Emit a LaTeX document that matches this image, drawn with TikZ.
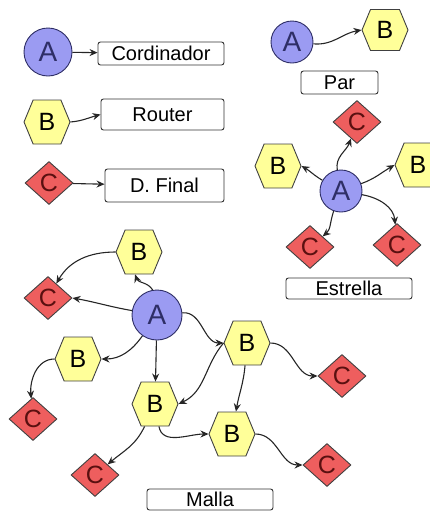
\documentclass[tikz,border=0pt]{standalone}
\usepackage{fontspec}
\setmainfont{Liberation Sans}
\usetikzlibrary{shapes.geometric,shapes.symbols,arrows.meta}
\definecolor{afill}{HTML}{9B9BF2}
\definecolor{aline}{HTML}{2E2E66}
\definecolor{bfill}{HTML}{FFFF99}
\definecolor{cfill}{HTML}{EE5E5E}
\definecolor{ctext}{HTML}{5A1010}

\begin{document}
\begin{tikzpicture}[x=1pt,y=1pt,
  acirc/.style={circle,draw=aline,line width=0.9pt,fill=afill,text=aline,minimum size=44pt,inner sep=0pt,font=\fontsize{28}{28}\selectfont},
  bhex/.style={signal,signal to=west and east,signal pointer angle=135,draw=black!75,line width=0.9pt,fill=bfill,minimum width=46pt,minimum height=44pt,inner sep=0pt,font=\fontsize{25}{25}\selectfont},
  cdia/.style={diamond,draw=black!75,line width=0.9pt,fill=cfill,text=ctext,minimum width=48pt,minimum height=43pt,inner sep=0pt,font=\fontsize{25}{25}\selectfont},
  lbox/.style={rectangle,rounded corners=2.5pt,draw=black!80,line width=0.9pt,fill=white,inner sep=0pt,font=\fontsize{20}{20}\selectfont},
  arr/.style={line width=1.1pt,-{Stealth[length=8pt,width=7pt]},black!85}]
\useasboundingbox (0,0) rectangle (429,-512);

% leyenda
\node[acirc,minimum size=48pt] (la) at (48,-52) {A};
\node[lbox,minimum width=126pt,minimum height=23pt] (tcor) at (161,-53.5) {Cordinador};
\node[bhex] (lb) at (47,-122) {B};
\node[lbox,minimum width=123pt,minimum height=31pt] (trou) at (162.5,-114.5) {Router};
\node[cdia] (lc) at (49,-183) {C};
\node[lbox,minimum width=119pt,minimum height=33pt] (tfin) at (164.5,-185.5) {D. Final};
\draw[arr] (la) -- (tcor);
\draw[arr] (lb.east) to[out=5,in=195] (trou.west);
\draw[arr] (lc) -- (tfin);

% par
\node[acirc,minimum size=42pt] (pa) at (292,-42) {A};
\node[bhex,minimum height=41pt] (pb) at (385,-30) {B};
\node[lbox,minimum width=77pt,minimum height=23pt] (tpar) at (339.5,-82.5) {Par};
\draw[arr] (pa) to[out=-5,in=190] (pb.west);

% estrella
\node[acirc,minimum size=42pt] (ea) at (341,-191) {A};
\node[cdia] (ec1) at (357,-122) {C};
\node[bhex] (eb1) at (278,-166) {B};
\node[bhex] (eb2) at (418,-165) {B};
\node[cdia] (ec2) at (310,-247) {C};
\node[cdia] (ec3) at (397,-245) {C};
\node[lbox,minimum width=126pt,minimum height=21pt] (test) at (349,-288.5) {Estrella};
\draw[arr] (ea) to[out=100,in=250] (ec1);
\draw[arr] (ea) to[out=150,in=-30] (eb1.east);
\draw[arr] (ea) to[out=20,in=210] (eb2.west);
\draw[arr] (ea) to[out=250,in=40] (ec2);
\draw[arr] (ea) to[out=-10,in=95] (ec3);

% malla
\node[acirc,minimum size=50pt] (ma) at (157,-315) {A};
\node[bhex] (mb1) at (139,-252) {B};
\node[bhex] (mb2) at (78,-359) {B};
\node[bhex] (mb3) at (155,-404) {B};
\node[bhex] (mb4) at (247,-343) {B};
\node[bhex] (mb5) at (232,-434) {B};
\node[cdia] (mc1) at (48,-298) {C};
\node[cdia] (mc2) at (33,-419) {C};
\node[cdia] (mc3) at (342,-376) {C};
\node[cdia] (mc4) at (95,-475) {C};
\node[cdia] (mc5) at (327,-465) {C};
\node[lbox,minimum width=126pt,minimum height=21pt] (tmal) at (210,-499.5) {Malla};
\draw[arr] (ma.100) to[out=120,in=-70] (mb1.-100);
\draw[arr] (mb1.west) to[out=180,in=60] (mc1);
\draw[arr] (ma) to[out=170,in=-10] (mc1.east);
\draw[arr] (ma) to[out=235,in=0] (mb2.east);
\draw[arr] (mb2.west) to[out=180,in=95] (mc2);
\draw[arr] (ma) -- (mb3);
\draw[arr] (ma) to[out=5,in=180] (mb4.west);
\draw[arr] (mb4.west) to[out=230,in=25] (mb3.east);
\draw[arr] (mb4.east) to[out=0,in=180] (mc3);
\draw[arr] (mb4) to[out=-95,in=80] (mb5);
\draw[arr] (mb3) to[out=-80,in=180] (mb5.west);
\draw[arr] (mb3) to[out=245,in=40] (mc4);
\draw[arr] (mb5.east) to[out=0,in=180] (mc5);
\end{tikzpicture}
\end{document}
